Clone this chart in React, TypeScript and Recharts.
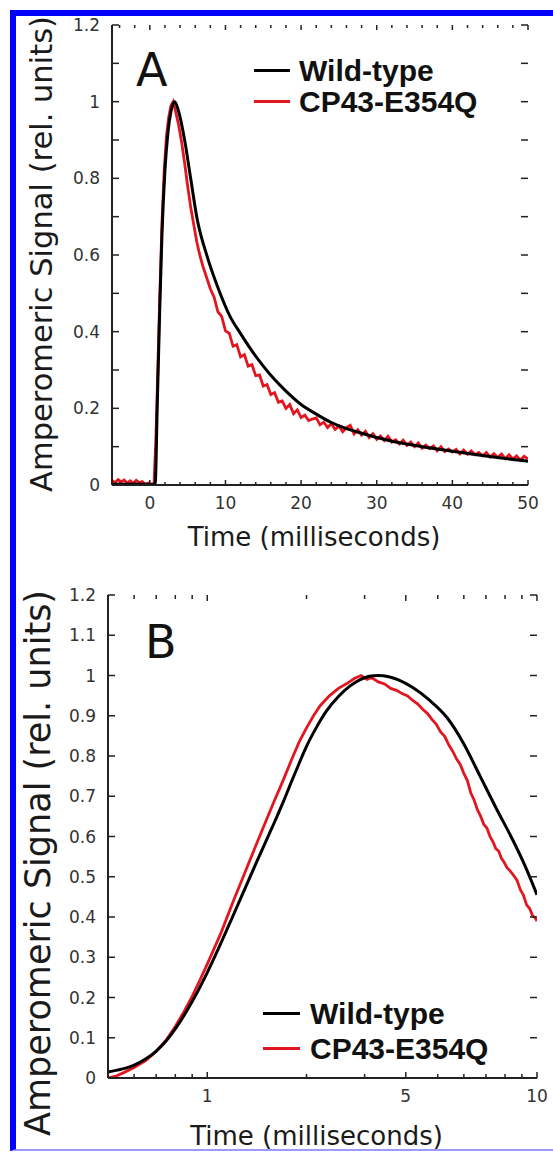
import React from "react";
import { LineChart, Line, XAxis, YAxis, Legend, Label } from "recharts";

const BLACK = "#000000";
const RED = "#e3161f";
const AXIS = "#222222";
const TICK_TEXT = "#333333";
const SANS = "'DejaVu Sans', Verdana, sans-serif";
const BOLD_SANS = "'Liberation Sans', Arial, Helvetica, sans-serif";

// ---- panel A (linear time) : [time ms, signal rel. units] ----
const wildTypeA: [number, number][] = [
  [-5, 0.002], [0.7, 0.002], [1.0, 0.22], [1.3, 0.45], [1.6, 0.65], [2.0, 0.82],
  [2.4, 0.92], [2.8, 0.975], [3.3, 1.0], [3.8, 0.975], [4.6, 0.9], [5.4, 0.8],
  [6.2, 0.7], [7.6, 0.595], [9.0, 0.515], [10.6, 0.44], [12, 0.395], [13.5, 0.35],
  [15, 0.31], [16.5, 0.275], [18, 0.245], [20, 0.21], [22, 0.185], [24, 0.163],
  [26, 0.147], [28, 0.135], [30, 0.124], [33, 0.11], [36, 0.1], [40, 0.088],
  [44, 0.077], [47, 0.069], [50, 0.062],
];

const mutantA: [number, number][] = [
  [-5, 0.012], [-4.6, 0.006], [-4.2, 0.014], [-3.8, 0.008], [-3.4, 0.013], [-3.0, 0.005],
  [-2.6, 0.011], [-2.2, 0.004], [-1.8, 0.012], [-1.4, 0.006], [-1.0, 0.009], [-0.6, 0.002],
  [-0.2, 0.005], [0.2, 0.001], [0.55, 0.0], [0.8, 0.12], [1.0, 0.26], [1.3, 0.48],
  [1.6, 0.68], [1.9, 0.82], [2.2, 0.91], [2.5, 0.96], [2.8, 0.99], [3.1, 1.0],
  [3.4, 0.975], [3.8, 0.94], [4.2, 0.895], [4.6, 0.84], [5.0, 0.78], [5.4, 0.725],
  [5.8, 0.68], [6.2, 0.635], [6.6, 0.6], [7.0, 0.572], [7.5, 0.542], [8.0, 0.512],
  [8.5, 0.49], [9.0, 0.452], [9.5, 0.44], [10.0, 0.402], [10.5, 0.396], [11.0, 0.362],
  [11.5, 0.366], [12.0, 0.334], [12.5, 0.34], [13.0, 0.31], [13.5, 0.314], [14.0, 0.285],
  [14.5, 0.287], [15.0, 0.258], [15.5, 0.262], [16.0, 0.236], [16.5, 0.241], [17.0, 0.216],
  [17.5, 0.219], [18.0, 0.2], [18.5, 0.21], [19.0, 0.186], [19.5, 0.196], [20.0, 0.176],
  [20.5, 0.182], [21.0, 0.168], [21.5, 0.172], [22.0, 0.175], [22.5, 0.157], [23.0, 0.164],
  [23.5, 0.15], [24.0, 0.16], [24.5, 0.145], [25.0, 0.154], [25.5, 0.139], [26.0, 0.15],
  [26.5, 0.156], [27.0, 0.133], [27.5, 0.144], [28.0, 0.13], [28.5, 0.14], [29.0, 0.124],
  [29.5, 0.134], [30.0, 0.119], [30.5, 0.128], [31.0, 0.116], [31.5, 0.127], [32.0, 0.112],
  [32.5, 0.118], [33.0, 0.107], [33.5, 0.117], [34.0, 0.103], [34.5, 0.112], [35.0, 0.1],
  [35.5, 0.11], [36.0, 0.096], [36.5, 0.104], [37.0, 0.095], [37.5, 0.102], [38.0, 0.089],
  [38.5, 0.1], [39.0, 0.087], [39.5, 0.094], [40.0, 0.086], [40.5, 0.093], [41.0, 0.081],
  [41.5, 0.091], [42.0, 0.08], [42.5, 0.089], [43.0, 0.079], [43.5, 0.085], [44.0, 0.076],
  [44.5, 0.085], [45.0, 0.073], [45.5, 0.082], [46.0, 0.072], [46.5, 0.081], [47.0, 0.069],
  [47.5, 0.079], [48.0, 0.068], [48.5, 0.076], [49.0, 0.065], [49.5, 0.075], [50.0, 0.068],
];

const ticksAX = [-4, -2, 0, 2, 4, 6, 8, 10, 12, 14, 16, 18, 20, 22, 24, 26, 28, 30, 32, 34, 36, 38, 40, 42, 44, 46, 48, 50];
const majorAX = [0, 10, 20, 30, 40, 50];
const ticksAY = [0, 0.1, 0.2, 0.3, 0.4, 0.5, 0.6, 0.7, 0.8, 0.9, 1, 1.1, 1.2];
const majorAY = [0, 0.2, 0.4, 0.6, 0.8, 1, 1.2];

// ---- panel B (log time) ----
const wildTypeB: [number, number][] = [
  [0.5, 0.015], [0.55, 0.022], [0.6, 0.032], [0.65, 0.047], [0.7, 0.067], [0.75, 0.092],
  [0.8, 0.122], [0.9, 0.19], [1.0, 0.262], [1.1, 0.335], [1.2, 0.405], [1.3, 0.47],
  [1.4, 0.53], [1.5, 0.585], [1.6, 0.636], [1.7, 0.686], [1.8, 0.736], [1.9, 0.782],
  [2.0, 0.824], [2.15, 0.873], [2.3, 0.912], [2.5, 0.948], [2.7, 0.973], [2.9, 0.989],
  [3.1, 0.998], [3.3, 1.0], [3.55, 0.997], [3.8, 0.989], [4.2, 0.97], [4.7, 0.94],
  [5.34, 0.895], [6.0, 0.83], [6.72, 0.75], [7.5, 0.672], [8.46, 0.59], [9.2, 0.527],
  [10, 0.455],
];

const mutantB: [number, number][] = [
  [0.5, 0.0], [0.53, 0.005], [0.56, 0.014], [0.6, 0.026], [0.65, 0.043], [0.7, 0.066],
  [0.75, 0.094], [0.8, 0.128], [0.85, 0.165], [0.9, 0.203], [0.95, 0.243], [1.0, 0.283],
  [1.1, 0.36], [1.2, 0.44], [1.3, 0.51], [1.4, 0.575], [1.5, 0.635], [1.6, 0.69],
  [1.7, 0.74], [1.8, 0.79], [1.9, 0.835], [2.0, 0.87], [2.1, 0.9], [2.2, 0.925],
  [2.35, 0.95], [2.5, 0.968], [2.65, 0.98], [2.8, 0.993], [2.93, 1.0], [3.05, 0.99],
  [3.15, 0.995], [3.3, 0.984], [3.45, 0.979], [3.6, 0.968], [3.75, 0.963], [3.9, 0.955],
  [4.05, 0.949], [4.2, 0.938], [4.35, 0.929], [4.5, 0.916], [4.65, 0.906], [4.8, 0.891],
  [4.95, 0.879], [5.1, 0.86], [5.25, 0.849], [5.4, 0.828], [5.55, 0.812], [5.7, 0.793],
  [5.85, 0.779], [6.0, 0.757], [6.15, 0.739], [6.3, 0.708], [6.45, 0.69], [6.6, 0.666],
  [6.75, 0.65], [6.9, 0.63], [7.05, 0.621], [7.2, 0.6], [7.35, 0.587], [7.5, 0.57],
  [7.65, 0.564], [7.8, 0.546], [7.95, 0.536], [8.1, 0.523], [8.3, 0.514], [8.5, 0.503],
  [8.7, 0.491], [8.9, 0.468], [9.1, 0.454], [9.3, 0.43], [9.5, 0.421], [9.7, 0.403],
  [9.85, 0.399], [10, 0.39],
];

const ticksBX = [0.6, 0.7, 0.8, 0.9, 1, 2, 3, 4, 5, 6, 7, 8, 9, 10];
const majorBX = [1, 4, 10];
// the printed figure puts its "5" under the 4 ms tick
const labelsBX: Record<number, string> = { 1: "1", 4: "5", 10: "10" };
const ticksBY = [0, 0.1, 0.2, 0.3, 0.4, 0.5, 0.6, 0.7, 0.8, 0.9, 1, 1.1, 1.2];

const seriesNames = ["Wild-type", "CP43-E354Q"];

const toPoints = (rows: [number, number][]) => rows.map(([t, v]) => ({ t, v }));

const W = 553;
const Y_W = 60;
const X_H = 30;

type PanelProps = {
  top: number;
  height: number;
  margin: { top: number; right: number; bottom: number; left: number };
  xDomain: [number, number];
  xScale: "linear" | "log";
  xTicks: number[];
  xMajor: number[];
  xLabel: (v: number) => string;
  xLens: [number, number];
  yTicks: number[];
  yMajor: number[];
  wild: [number, number][];
  mutant: [number, number][];
  letter: string;
  letterPos: [number, number];
  legendPos: { left: number; top: number; row: number; swatch: number; gap: number };
  yTitle: { cy: number; x: number; size: number };
  xTitleY: number;
};

function Panel(p: PanelProps) {
  const plotLeft = p.margin.left + Y_W;
  const plotRight = W - p.margin.right;
  const plotTop = p.margin.top;
  const plotBottom = p.height - p.margin.bottom - X_H;

  const renderXTick = (props: any) => {
    const x = props.x;
    const v = props.payload.value;
    const major = p.xMajor.includes(v);
    const len = major ? p.xLens[0] : p.xLens[1];
    return (
      <g>
        <line x1={x} x2={x} y1={plotBottom} y2={plotBottom - len} stroke={AXIS} strokeWidth={1.5} />
        <line x1={x} x2={x} y1={plotTop} y2={plotTop + len} stroke={AXIS} strokeWidth={1.5} />
        {major && (
          <text x={x} y={plotBottom + 24} textAnchor="middle" fontFamily={SANS} fontSize={17} fill={TICK_TEXT}>
            {p.xLabel(v)}
          </text>
        )}
      </g>
    );
  };

  const renderYTick = (props: any) => {
    const y = props.y;
    const v = props.payload.value;
    const major = p.yMajor.includes(v);
    return (
      <g>
        <line x1={plotLeft} x2={plotLeft + 7} y1={y} y2={y} stroke={AXIS} strokeWidth={1.5} />
        <line x1={plotRight} x2={plotRight - 7} y1={y} y2={y} stroke={AXIS} strokeWidth={1.5} />
        {major && (
          <text x={plotLeft - 12} y={y} dy="0.36em" textAnchor="end" fontFamily={SANS} fontSize={17} fill={TICK_TEXT}>
            {String(v)}
          </text>
        )}
      </g>
    );
  };

  const renderLegend = () => (
    <div style={{ fontFamily: BOLD_SANS, fontWeight: 700, fontSize: 30, lineHeight: `${p.legendPos.row}px`, color: "#111" }}>
      {seriesNames.map((name, i) => (
        <div key={name} style={{ display: "flex", alignItems: "center", height: p.legendPos.row, whiteSpace: "nowrap" }}>
          <span
            style={{
              display: "inline-block",
              width: p.legendPos.swatch,
              height: 3,
              background: i === 0 ? BLACK : RED,
              marginRight: p.legendPos.gap,
            }}
          />
          {name}
        </div>
      ))}
    </div>
  );

  const axisLine = { stroke: AXIS, strokeWidth: 2 };

  return (
    <div style={{ position: "absolute", left: 0, top: p.top, width: W, height: p.height }}>
      <LineChart width={W} height={p.height} margin={p.margin}>
        <XAxis
          dataKey="t"
          type="number"
          scale={p.xScale}
          domain={p.xDomain}
          allowDataOverflow
          ticks={p.xTicks}
          interval={0}
          tickLine={false}
          axisLine={axisLine}
          tick={renderXTick}
          height={X_H}
        >
          <Label
            content={() => (
              <text
                x={(plotLeft + plotRight) / 2 - 6}
                y={p.xTitleY}
                textAnchor="middle"
                fontFamily={SANS}
                fontSize={26}
                fill="#1a1a1a"
              >
                Time (milliseconds)
              </text>
            )}
          />
        </XAxis>
        <XAxis
          xAxisId="frame"
          orientation="top"
          type="number"
          domain={p.xDomain}
          allowDataOverflow
          height={0}
          tick={false}
          tickLine={false}
          axisLine={axisLine}
        />
        <YAxis
          type="number"
          domain={[0, 1.2]}
          allowDataOverflow
          ticks={p.yTicks}
          interval={0}
          tickLine={false}
          axisLine={axisLine}
          tick={renderYTick}
          width={Y_W}
        >
          <Label
            content={() => (
              <text
                x={p.yTitle.x}
                y={p.yTitle.cy}
                transform={`rotate(-90 ${p.yTitle.x} ${p.yTitle.cy})`}
                textAnchor="middle"
                fontFamily={SANS}
                fontSize={p.yTitle.size}
                fill="#1a1a1a"
              >
                Amperomeric Signal (rel. units)
              </text>
            )}
          />
        </YAxis>
        <YAxis
          yAxisId="frame"
          orientation="right"
          type="number"
          domain={[0, 1.2]}
          allowDataOverflow
          width={0}
          tick={false}
          tickLine={false}
          axisLine={axisLine}
        />
        <Legend
          layout="vertical"
          align="center"
          verticalAlign="middle"
          content={renderLegend}
          wrapperStyle={{ left: p.legendPos.left, top: p.legendPos.top, width: 300 }}
        />
        <Line
          data={toPoints(p.mutant)}
          dataKey="v"
          name={seriesNames[1]}
          type="linear"
          stroke={RED}
          strokeWidth={2.8}
          dot={false}
          isAnimationActive={false}
        />
        <Line
          data={toPoints(p.wild)}
          dataKey="v"
          name={seriesNames[0]}
          type="monotone"
          stroke={BLACK}
          strokeWidth={3}
          dot={false}
          isAnimationActive={false}
        />
      </LineChart>
      <svg
        width={W}
        height={p.height}
        style={{ position: "absolute", left: 0, top: 0, pointerEvents: "none" }}
      >
        <text x={p.letterPos[0]} y={p.letterPos[1]} fontFamily={SANS} fontSize={46} fill="#111">
          {p.letter}
        </text>
      </svg>
    </div>
  );
}

export default function App() {
  return (
    <div style={{ position: "absolute", left: 0, top: 0, width: 553, height: 1152, overflow: "hidden", background: "#fff" }}>
      <div
        style={{
          position: "absolute",
          left: 10,
          top: 10,
          width: 543,
          height: 1141,
          boxSizing: "border-box",
          borderLeft: "6px solid #0000ff",
          borderTop: "6px solid #0000ff",
          borderBottom: "2px solid #9a9aff",
        }}
      />
      <Panel
        top={0}
        height={560}
        margin={{ top: 25, right: 25, bottom: 45, left: 52 }}
        xDomain={[-5, 50]}
        xScale="linear"
        xTicks={ticksAX}
        xMajor={majorAX}
        xLabel={(v) => String(v)}
        xLens={[5, 3]}
        yTicks={ticksAY}
        yMajor={majorAY}
        wild={wildTypeA}
        mutant={mutantA}
        letter="A"
        letterPos={[136, 86]}
        legendPos={{ left: 254, top: 55, row: 31, swatch: 36, gap: 9 }}
        yTitle={{ cy: 254, x: 52, size: 30.5 }}
        xTitleY={546}
      />
      <Panel
        top={560}
        height={592}
        margin={{ top: 35, right: 16, bottom: 44, left: 48 }}
        xDomain={[0.5, 10]}
        xScale="log"
        xTicks={ticksBX}
        xMajor={majorBX}
        xLabel={(v) => labelsBX[v] ?? String(v)}
        xLens={[6, 4]}
        yTicks={ticksBY}
        yMajor={ticksBY}
        wild={wildTypeB}
        mutant={mutantB}
        letter="B"
        letterPos={[145, 98]}
        legendPos={{ left: 263, top: 436, row: 35, swatch: 37, gap: 10 }}
        yTitle={{ cy: 303, x: 50, size: 35 }}
        xTitleY={585}
      />
    </div>
  );
}
